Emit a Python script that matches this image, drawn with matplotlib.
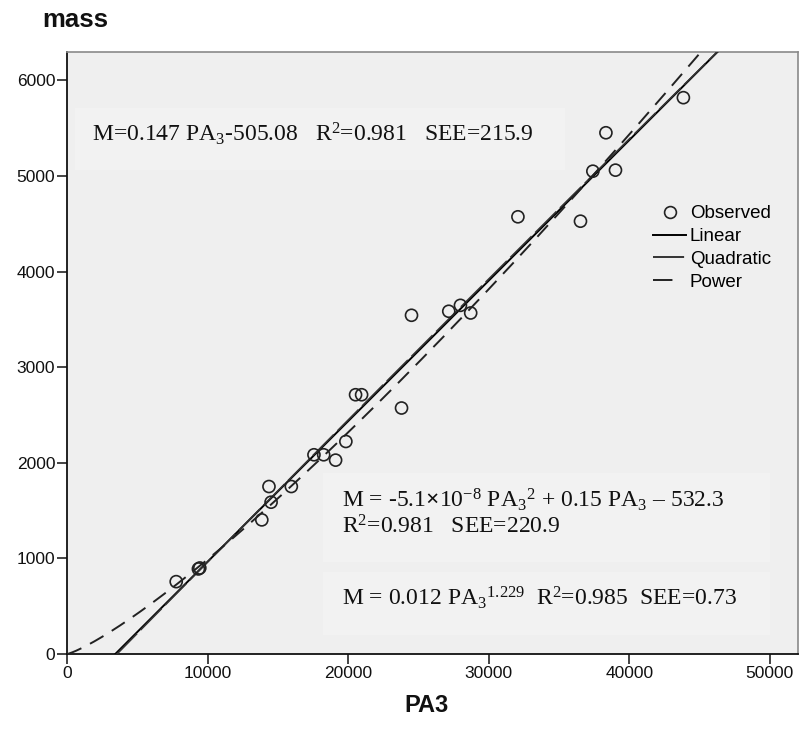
import numpy as np
import matplotlib
matplotlib.use("Agg")
import matplotlib.pyplot as plt
from matplotlib.lines import Line2D
from matplotlib.patches import Rectangle

# observed points
pa3 = [7770, 9350, 9450, 13860, 14370, 14520, 15960, 17570, 18260, 19110,
       19840, 20530, 20960, 23800, 24510, 27160, 27990, 28720, 32080, 36530,
       37410, 38340, 39020, 43850]
mass = [757, 890, 900, 1403, 1752, 1588, 1752, 2084, 2084, 2028,
        2223, 2712, 2712, 2573, 3543, 3585, 3647, 3567, 4573, 4527,
        5050, 5452, 5061, 5819]

# fitted models printed on the chart
lin_coef = (0.147, -505.08)
quad_coef = (-5.1e-8, 0.15, -532.3)
pow_coef = (0.012, 1.229)

x_ticks = [0, 10000, 20000, 30000, 40000, 50000]
y_ticks = [0, 1000, 2000, 3000, 4000, 5000, 6000]

plt.rcParams["font.family"] = ["Liberation Sans", "DejaVu Sans"]
plt.rcParams["mathtext.fontset"] = "custom"
plt.rcParams["mathtext.rm"] = "Liberation Serif"
plt.rcParams["mathtext.it"] = "Liberation Serif:italic"
plt.rcParams["mathtext.bf"] = "Liberation Serif:bold"

fig = plt.figure(figsize=(8.03, 7.31), dpi=100)
fig.patch.set_facecolor("white")
ax = fig.add_axes([0.0834, 0.1053, 0.9103, 0.824])
ax.set_facecolor("#efefef")

xx = np.linspace(0, 52000, 400)
ax.plot(xx, lin_coef[0] * xx + lin_coef[1], color="black", lw=1.4, zorder=3)
ax.plot(xx, quad_coef[0] * xx**2 + quad_coef[1] * xx + quad_coef[2],
        color="#333333", lw=1.2, dashes=(18, 3), zorder=3)
ax.plot(xx, pow_coef[0] * xx**pow_coef[1], color="#222222", lw=1.4,
        dashes=(8, 5), zorder=3)
ax.scatter(pa3, mass, s=75, facecolors="none", edgecolors="#222222",
           linewidths=1.2, zorder=4)

ax.set_xlim(0, 52000)
ax.set_ylim(0, 6300)
ax.set_xticks(x_ticks)
ax.set_yticks(y_ticks)
ax.tick_params(direction="out", length=7, width=1.1, labelsize=12.5,
               pad=1.5, colors="#111111")
for s in ["left", "bottom"]:
    ax.spines[s].set_linewidth(1.3)
    ax.spines[s].set_color("#111111")
for s in ["top", "right"]:
    ax.spines[s].set_linewidth(1.2)
    ax.spines[s].set_color("#8a8a8a")

# light boxes behind the equations
for (bx, by, bw, bh) in [(0.011, 0.804, 0.67, 0.103),
                         (0.350, 0.153, 0.612, 0.147),
                         (0.350, 0.0315, 0.612, 0.105)]:
    ax.add_patch(Rectangle((bx, by), bw, bh, transform=ax.transAxes,
                           facecolor="#f2f2f2", edgecolor="none", zorder=1))

serif = dict(family="Liberation Serif", fontsize=17, color="#111111",
             transform=ax.transAxes, va="baseline", zorder=5)
ax.text(0.034, 0.851,
        r"M=0.147 PA$_3$-505.08   R$^2$=0.981   SEE=215.9", **serif)
ax.text(0.376, 0.244,
        r"M = -5.1$\boldsymbol{\times}$10$^{-8}$ PA$_3$$^2$ + 0.15 PA$_3$ – 532.3",
        **serif)
ax.text(0.376, 0.200, r"R$^2$=0.981   SEE=220.9", **serif)
ax.text(0.376, 0.081,
        r"M = 0.012 PA$_3$$^{1.229}$  R$^2$=0.985  SEE=0.73", **serif)

handles = [
    Line2D([], [], ls="none", marker="o", markersize=8.5, mfc="none",
           mec="#222222", mew=1.2),
    Line2D([], [], color="black", lw=1.4),
    Line2D([], [], color="#333333", lw=1.4, dashes=(16, 30)),
    Line2D([], [], color="#222222", lw=1.4, dashes=(10, 30)),
]
ax.legend(handles, ["Observed", "Linear", "Quadratic", "Power"],
          loc="upper left", bbox_to_anchor=(0.802, 0.745), frameon=False,
          fontsize=13.5, handlelength=1.75, handletextpad=0.2,
          labelspacing=0.3, borderpad=0, borderaxespad=0)

fig.text(42 / 803, 1 - 27 / 731, "mass", fontsize=18.5, fontweight="bold",
         va="baseline", ha="left", color="#111111")
fig.text(427 / 803, 1 - 712 / 731, "PA3", fontsize=17, fontweight="bold",
         va="baseline", ha="center", color="#111111")

fig.savefig("out.png", dpi=100)
